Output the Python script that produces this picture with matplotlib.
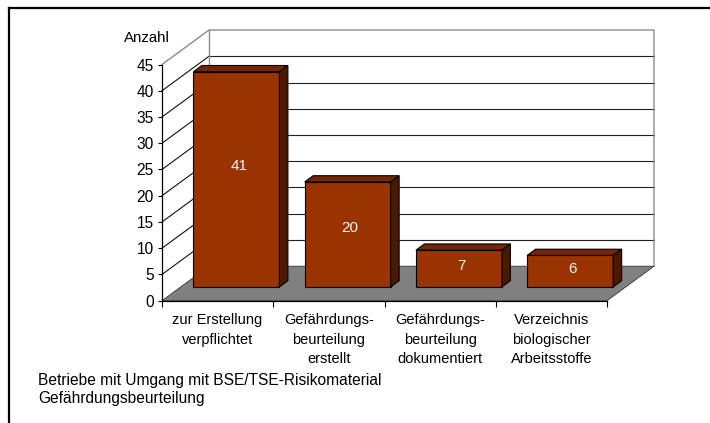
import matplotlib
matplotlib.use('Agg')
import matplotlib.pyplot as plt
from matplotlib.patches import Polygon
from matplotlib.lines import Line2D

plt.rcParams['font.family'] = ['Liberation Sans', 'DejaVu Sans']
plt.rcParams['font.size'] = 10.8

categories = ['zur Erstellung\nverpflichtet',
              'Gefährdungs-\nbeurteilung\nerstellt',
              'Gefährdungs-\nbeurteilung\ndokumentiert',
              'Verzeichnis\nbiologischer\nArbeitsstoffe']
values = [41, 20, 7, 6]
yticks = [0, 5, 10, 15, 20, 25, 30, 35, 40, 45]
ylabel = 'Anzahl'
footer = ['Betriebe mit Umgang mit BSE/TSE-Risikomaterial', 'Gefährdungsbeurteilung']

# fake 3d: depth offset of the back wall in data units
DX, DY = 0.4225, 6.57
F1, FD = 0.40, 0.18      # bar front position in depth, bar depth
W = 0.773
front_c, top_c, side_c = '#993300', '#732600', '#4a1a00'

fig = plt.figure(figsize=(7.1, 4.23), dpi=100)
ax = fig.add_axes([162 / 710, 1 - 300.7 / 423, 445 / 710, 236.2 / 423])
ax.set_xlim(-0.5, 3.5)
ax.set_ylim(0, 45)
ax.patch.set_visible(False)
for s in ['top', 'right']:
    ax.spines[s].set_visible(False)
for s in ['left', 'bottom']:
    ax.spines[s].set_linewidth(0.9)
    ax.spines[s].set_zorder(6)

x0, x1 = -0.5, 3.5
# back wall grid and frame
for v in yticks[1:-1]:
    ax.plot([x0 + DX, x1 + DX], [v + DY, v + DY], color='#222222', lw=0.8, zorder=1, clip_on=False)
    ax.plot([x0, x0 + DX], [v, v + DY], color='#111111', lw=0.8, zorder=1, clip_on=False)
gray = '#8c8c8c'
ax.plot([x0, x0 + DX, x1 + DX, x1 + DX], [45, 45 + DY, 45 + DY, DY], color=gray, lw=1.0, zorder=1, clip_on=False)
ax.plot([x0 + DX, x0 + DX], [DY, 45 + DY], color=gray, lw=1.0, zorder=1, clip_on=False)

# floor
floor = Polygon([(x0, 0), (x1, 0), (x1 + DX, DY), (x0 + DX, DY)], closed=True,
                facecolor='#808080', edgecolor='#333333', lw=0.6, zorder=2, clip_on=False)
ax.add_patch(floor)

# bars
xs = list(range(len(values)))
b = F1 * DY
dx, dy = FD * DX, FD * DY
ax.bar([x + F1 * DX for x in xs], values, width=W, bottom=b, color=front_c,
       edgecolor='black', lw=0.8, zorder=5, clip_on=False)
for x, v in zip(xs, values):
    l = x + F1 * DX - W / 2
    r = l + W
    t = b + v
    ax.add_patch(Polygon([(l, t), (r, t), (r + dx, t + dy), (l + dx, t + dy)],
                         facecolor=top_c, edgecolor='black', lw=0.8, zorder=5, clip_on=False))
    ax.add_patch(Polygon([(r, b), (r + dx, b + dy), (r + dx, t + dy), (r, t)],
                         facecolor=side_c, edgecolor='black', lw=0.8, zorder=5, clip_on=False))
    ax.text(x + F1 * DX + 0.02, b + v * 0.56, str(v), color='#f4f4f4', ha='center', va='center',
            fontsize=11, zorder=7)

ax.set_yticks(yticks)
ax.tick_params(axis='y', direction='out', length=3, width=0.8, pad=3, labelsize=11.2)
ax.set_xticks([-0.5, 0.5, 1.5, 2.5, 3.5])
ax.set_xticklabels([])
ax.tick_params(axis='x', which='major', direction='out', length=4, width=0.8)
ax.set_xticks(xs, categories, minor=True)
ax.tick_params(axis='x', which='minor', length=0, pad=9, labelsize=10.5)
for lab in ax.get_xticklabels(minor=True):
    lab.set_linespacing(1.5)

fig.text(147 / 710, 1 - 38 / 423, ylabel, ha='center', va='center', fontsize=10.8)
fig.text(38 / 710, 1 - 380 / 423, footer[0], ha='left', va='center', fontsize=11.2)
fig.text(38 / 710, 1 - 398 / 423, footer[1], ha='left', va='center', fontsize=11.2)

# outer frame (cut off at right and bottom)
fig.add_artist(Line2D([9 / 710, 1], [1 - 8 / 423, 1 - 8 / 423], transform=fig.transFigure, color='black', lw=1.6))
fig.add_artist(Line2D([9 / 710, 9 / 710], [0, 1 - 8 / 423], transform=fig.transFigure, color='black', lw=1.6))

fig.savefig('out.png', dpi=100)
